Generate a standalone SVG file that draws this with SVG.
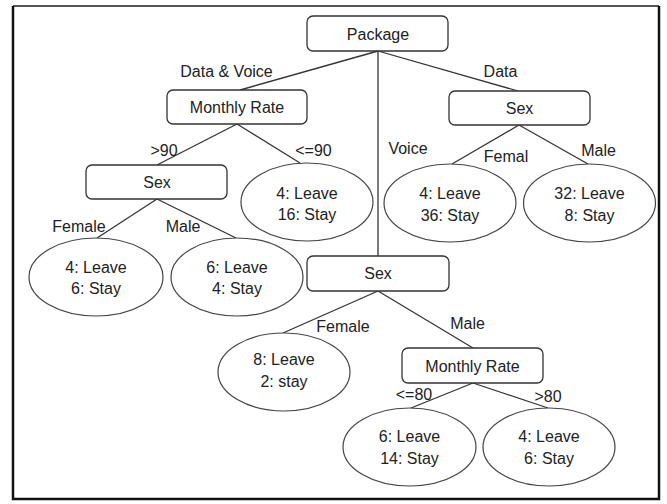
<svg xmlns="http://www.w3.org/2000/svg" width="667" height="504" viewBox="0 0 667 504">
<style>
  .box { fill: #ffffff; stroke: #333333; stroke-width: 1.3; }
  .leaf { fill: #ffffff; stroke: #444444; stroke-width: 1.2; }
  .edge { stroke: #333333; stroke-width: 1.3; fill: none; }
  text { font-family: "Liberation Sans", Arial, sans-serif; font-size: 16px; fill: #222222; text-anchor: middle; }
</style>
<rect x="0" y="0" width="667" height="504" fill="#ffffff"/>
<g id="frame">
  <path d="M13 6 L659 6" stroke="#555555" stroke-width="2" fill="none"/>
  <path d="M13 6 L13 499 L659 499 L659 6" stroke="#111111" stroke-width="2.5" fill="none"/>
</g>
<g id="connectors">
  <line class="edge" x1="378" y1="51" x2="240" y2="90"/>
  <line class="edge" x1="378" y1="51" x2="378" y2="256"/>
  <line class="edge" x1="378" y1="51" x2="518" y2="91"/>
  <line class="edge" x1="237" y1="124" x2="157" y2="165"/>
  <line class="edge" x1="237" y1="124" x2="300" y2="163"/>
  <line class="edge" x1="519" y1="125" x2="452" y2="164"/>
  <line class="edge" x1="519" y1="125" x2="588" y2="164"/>
  <line class="edge" x1="157" y1="199" x2="97" y2="238"/>
  <line class="edge" x1="157" y1="199" x2="236" y2="238"/>
  <line class="edge" x1="378" y1="291" x2="283" y2="333"/>
  <line class="edge" x1="378" y1="291" x2="473" y2="348"/>
  <line class="edge" x1="473" y1="383" x2="411" y2="408"/>
  <line class="edge" x1="473" y1="383" x2="548" y2="408"/>
  <text x="226.5" y="76.5">Data &amp; Voice</text>
  <text x="500.5" y="76.5">Data</text>
  <text x="164" y="155.5">&gt;90</text>
  <text x="313.5" y="155.5">&lt;=90</text>
  <text x="408" y="153.5">Voice</text>
  <text x="506" y="161.5">Femal</text>
  <text x="598.5" y="155.5">Male</text>
  <text x="79" y="231.5">Female</text>
  <text x="183" y="231.5">Male</text>
  <text x="343" y="331.5">Female</text>
  <text x="467.5" y="328.5">Male</text>
  <text x="414" y="399.5">&lt;=80</text>
  <text x="548" y="401.5">&gt;80</text>
</g>
<g id="n-package">
  <rect class="box" x="307" y="16" width="141" height="35" rx="6"/>
  <text x="378" y="39.5">Package</text>
</g>
<g id="n-monthly-rate-1">
  <rect class="box" x="167" y="90" width="140" height="34" rx="6"/>
  <text x="237" y="112.5">Monthly Rate</text>
</g>
<g id="n-sex-data">
  <rect class="box" x="449" y="91" width="141" height="34" rx="6"/>
  <text x="519.5" y="113.5">Sex</text>
</g>
<g id="n-sex-gt90">
  <rect class="box" x="86" y="165" width="141" height="34" rx="6"/>
  <text x="157" y="187.5">Sex</text>
</g>
<g id="n-sex-voice">
  <rect class="box" x="307" y="256" width="142" height="35" rx="6"/>
  <text x="378" y="278.5">Sex</text>
</g>
<g id="n-monthly-rate-2">
  <rect class="box" x="402" y="348" width="141" height="35" rx="6"/>
  <text x="472.5" y="371.5">Monthly Rate</text>
</g>
<g id="n-leaf-le90">
  <ellipse class="leaf" cx="307" cy="202" rx="66" ry="39"/>
  <text x="307" y="198.5">4: Leave</text>
  <text x="307" y="219.5">16: Stay</text>
</g>
<g id="n-leaf-data-female">
  <ellipse class="leaf" cx="450" cy="203" rx="66" ry="39"/>
  <text x="450" y="198.5">4: Leave</text>
  <text x="450" y="220.5">36: Stay</text>
</g>
<g id="n-leaf-data-male">
  <ellipse class="leaf" cx="589.5" cy="203" rx="66" ry="39"/>
  <text x="589.5" y="198.5">32: Leave</text>
  <text x="589.5" y="220.5">8: Stay</text>
</g>
<g id="n-leaf-gt90-female">
  <ellipse class="leaf" cx="96" cy="277" rx="67" ry="39"/>
  <text x="96" y="272.5">4: Leave</text>
  <text x="96" y="293.5">6: Stay</text>
</g>
<g id="n-leaf-gt90-male">
  <ellipse class="leaf" cx="237" cy="277" rx="66" ry="39"/>
  <text x="237" y="272.5">6: Leave</text>
  <text x="237" y="293.5">4: Stay</text>
</g>
<g id="n-leaf-voice-female">
  <ellipse class="leaf" cx="284" cy="372" rx="66" ry="39"/>
  <text x="284" y="364.5">8: Leave</text>
  <text x="284" y="386.5">2: stay</text>
</g>
<g id="n-leaf-le80">
  <ellipse class="leaf" cx="409.5" cy="447" rx="66.5" ry="39"/>
  <text x="409.5" y="441.5">6: Leave</text>
  <text x="409.5" y="463.5">14: Stay</text>
</g>
<g id="n-leaf-gt80">
  <ellipse class="leaf" cx="549" cy="447" rx="66" ry="39"/>
  <text x="549" y="441.5">4: Leave</text>
  <text x="549" y="463.5">6: Stay</text>
</g>
</svg>
